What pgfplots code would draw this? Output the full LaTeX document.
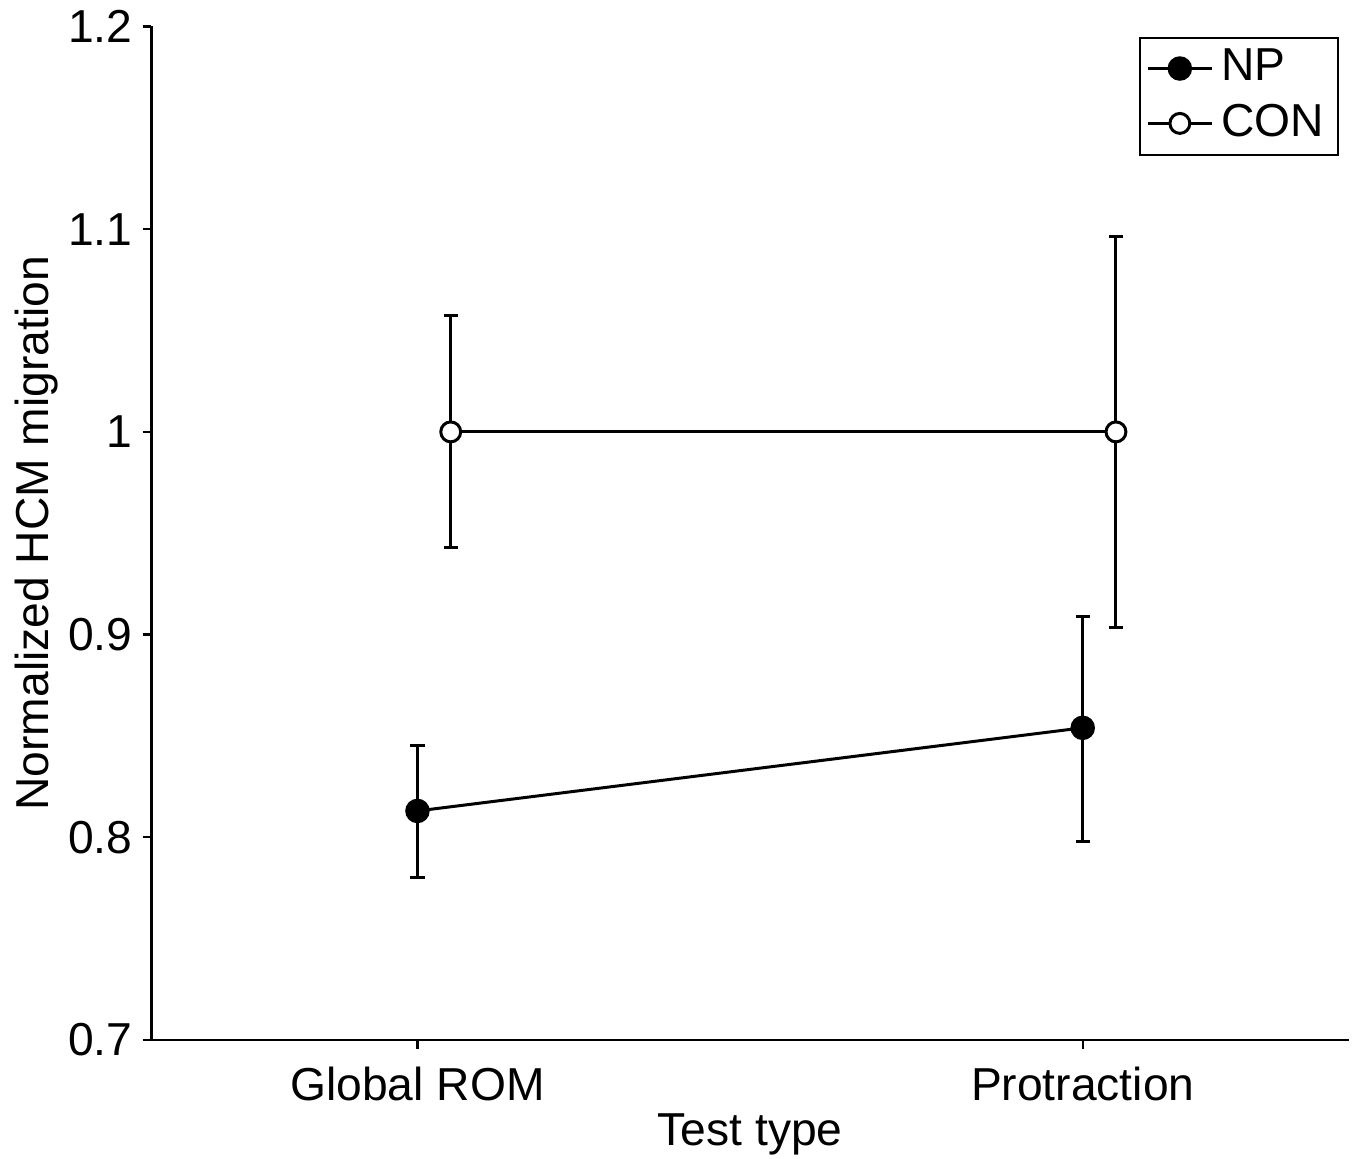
\documentclass[border=0pt]{standalone}
\usepackage{pgfplots}
\pgfplotsset{compat=1.18}
\usepackage{fontspec}
\setmainfont{Liberation Sans}
\begin{document}
\fontsize{11.6}{13.5}\selectfont
\begin{tikzpicture}
\begin{axis}[
  name=ax,
  scale only axis,
  width=299.5bp, height=253.5bp,
  xmin=-0.4, xmax=1.4,
  ymin=0.7, ymax=1.2,
  axis x line=bottom, axis y line=left,
  axis line style={-, line width=0.6pt},
  tick align=outside,
  major tick length=2.2pt,
  tick style={line width=0.6pt, black},
  xtick={0,1}, xticklabels={Global ROM, Protraction},
  ytick={0.7,0.8,0.9,1,1.1,1.2},
  yticklabels={0.7,0.8,0.9,1,1.1,1.2},
  ticklabel style={font=\fontsize{11.6}{13.5}\selectfont},
  xticklabel style={yshift=-0.4pt},
  yticklabel style={xshift=1.5pt, inner ysep=2.6pt},
  label style={font=\fontsize{11.6}{13.5}\selectfont},
  xlabel={Test type},
  ylabel={Normalized HCM migration},
  xlabel style={yshift=1.85pt, inner ysep=1pt},
  ylabel style={yshift=-5.5pt},
  legend style={at={(0.992,0.99)}, anchor=north east, draw=black, line width=0.5pt,
    font=\fontsize{11.6}{13.5}\selectfont, inner xsep=1.5pt, inner ysep=0.9pt, row sep=0pt, cells={anchor=west}},
  legend image code/.code={
    \draw[#1, line width=0.75pt] (0cm,0cm) -- (0.57cm,0cm);
    \draw[#1, line width=0.75pt] plot coordinates {(0.285cm,0cm)};
  },
  clip=false,
]
\addplot[black, line width=0.75pt, mark=*, mark size=2.7pt, mark options={fill=black, solid},
  error bars/.cd, y dir=both, y explicit,
  error mark options={rotate=90, mark size=1.8pt, line width=0.75pt},
  error bar style={line width=0.75pt}]
  coordinates {
  (0,0.813) += (0,0.0325) -= (0,0.033)
  (1,0.854) += (0,0.055) -= (0,0.056)
  };
\addlegendentry{NP}
\addplot[black, line width=0.75pt, mark=*, mark size=2.5pt, mark options={fill=white, solid},
  error bars/.cd, y dir=both, y explicit,
  error mark options={rotate=90, mark size=1.8pt, line width=0.75pt},
  error bar style={line width=0.75pt}]
  coordinates {
  (0.05,1.0) += (0,0.0575) -= (0,0.057)
  (1.05,1.0) += (0,0.0964) -= (0,0.0964)
  };
\addlegendentry{CON}
\end{axis}
\path (ax.outer east) ++(1.75bp,0);
\end{tikzpicture}
\end{document}
